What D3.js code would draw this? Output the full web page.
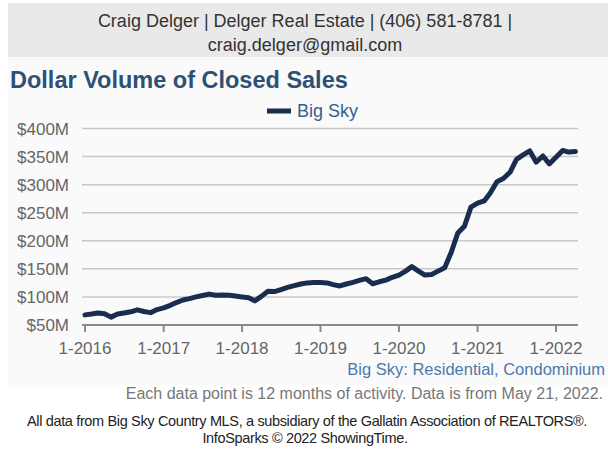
<!DOCTYPE html>
<html>
<head>
<meta charset="utf-8">
<script src="https://cdn.jsdelivr.net/npm/d3@7"></script>
<style>
  body { margin: 0; background: #fff; }
  svg { display: block; font-family: "Liberation Sans", Arial, sans-serif; }
</style>
</head>
<body>
<div id="chart"></div>
<script>
// monthly rolling 12-month dollar volume, $M
const vol2016 = [68, 69.5, 71.5, 70, 64, 69.5, 71.5, 73.5, 77, 74, 72, 77.5];
const vol2017 = [80.5, 85, 90, 94.5, 97, 100, 102.5, 105, 103, 103.5, 103, 101.5];
const vol2018 = [100, 98.5, 93, 101, 110, 109.5, 113, 117, 120, 123, 125, 125.5];
const vol2019 = [125.5, 125, 122, 119.5, 123, 126, 129.5, 132.5, 123.5, 127, 130, 135];
const vol2020 = [139, 146, 154, 146, 139, 140, 146, 152, 180, 214, 226, 260];
const vol2021 = [267, 271, 285, 305, 311, 322, 345, 353, 360, 340, 351, 337];
const vol2022 = [349, 361, 358, 359];

const years = [2016, 2017, 2018, 2019, 2020, 2021, 2022];
const xTickLabels = ["1-2016", "1-2017", "1-2018", "1-2019", "1-2020", "1-2021", "1-2022"];
const yTicks = [50, 100, 150, 200, 250, 300, 350, 400];
const seriesName = "Big Sky";

const yearly = [vol2016, vol2017, vol2018, vol2019, vol2020, vol2021, vol2022];
let data = [];
yearly.forEach((arr, i) => {
  arr.forEach((v, m) => data.push({ date: new Date(years[i], m, 1), value: v }));
});

const W = 608, H = 449;
const svg = d3.select("#chart").append("svg").attr("width", W).attr("height", H);

// header box
svg.append("rect").attr("x", 8).attr("y", 3).attr("width", 600).attr("height", 54).attr("fill", "#e9e9e9");
svg.append("text").attr("x", 305).attr("y", 27).attr("text-anchor", "middle")
  .attr("font-size", 18).attr("fill", "#333")
  .text("Craig Delger | Delger Real Estate | (406) 581-8781 |");
svg.append("text").attr("x", 305).attr("y", 51).attr("text-anchor", "middle")
  .attr("font-size", 18).attr("fill", "#333")
  .text("craig.delger@gmail.com");

// chart panel
svg.append("rect").attr("x", 8).attr("y", 57).attr("width", 600).attr("height", 328).attr("fill", "#fafafa");

svg.append("text").attr("x", 10).attr("y", 88)
  .attr("font-size", 23.5).attr("font-weight", "bold").attr("fill", "#2d5077")
  .text("Dollar Volume of Closed Sales");

const left = 82, right = 578;
const x = d3.scaleTime()
  .domain([new Date(2016, 0, 1), new Date(2022, 0, 1)])
  .range([85, 556]);
const y = d3.scaleLinear().domain([50, 400]).range([325, 128.5]);

// gridlines
svg.append("g").selectAll("line").data(yTicks.slice(1)).enter().append("line")
  .attr("x1", left).attr("x2", right)
  .attr("y1", d => y(d)).attr("y2", d => y(d))
  .attr("stroke", "#c8c8c8").attr("stroke-width", 1.5);

// y labels
svg.append("g").selectAll("text").data(yTicks).enter().append("text")
  .attr("x", 69).attr("y", d => y(d) + 6)
  .attr("text-anchor", "end").attr("font-size", 17).attr("fill", "#666")
  .text(d => "$" + d + "M");

// x axis
svg.append("line").attr("x1", left).attr("x2", right).attr("y1", y(50)).attr("y2", y(50))
  .attr("stroke", "#8a8a8a").attr("stroke-width", 2);
const xg = svg.append("g").selectAll("g").data(years).enter().append("g")
  .attr("transform", d => "translate(" + x(new Date(d, 0, 1)) + ",0)");
xg.append("line").attr("y1", y(50)).attr("y2", y(50) + 7).attr("stroke", "#8a8a8a").attr("stroke-width", 2);
xg.append("text").attr("y", 354).attr("text-anchor", "middle")
  .attr("font-size", 17).attr("fill", "#666")
  .text((d, i) => xTickLabels[i]);

// line
const line = d3.line().x(d => x(d.date)).y(d => y(d.value));
svg.append("path").datum(data).attr("d", line)
  .attr("fill", "none").attr("stroke", "#1b2d4f").attr("stroke-width", 5)
  .attr("stroke-linejoin", "round").attr("stroke-linecap", "round");

// legend
svg.append("line").attr("x1", 267).attr("x2", 291).attr("y1", 111).attr("y2", 111)
  .attr("stroke", "#1b2d4f").attr("stroke-width", 5);
svg.append("text").attr("x", 297).attr("y", 117)
  .attr("font-size", 18).attr("fill", "#35618f").text(seriesName);

// footers
svg.append("text").attr("x", 605).attr("y", 375).attr("text-anchor", "end")
  .attr("font-size", 16.5).attr("fill", "#4a79ad")
  .text("Big Sky: Residential, Condominium");
svg.append("text").attr("x", 603).attr("y", 399).attr("text-anchor", "end")
  .attr("font-size", 16).attr("fill", "#777")
  .text("Each data point is 12 months of activity. Data is from May 21, 2022.");
svg.append("text").attr("x", 307).attr("y", 426).attr("text-anchor", "middle")
  .attr("font-size", 14.5).attr("fill", "#222").attr("letter-spacing", -0.35)
  .text("All data from Big Sky Country MLS, a subsidiary of the Gallatin Association of REALTORS®.");
svg.append("text").attr("x", 305).attr("y", 443).attr("text-anchor", "middle")
  .attr("font-size", 14.5).attr("fill", "#222").attr("letter-spacing", -0.35)
  .text("InfoSparks © 2022 ShowingTime.");
</script>
</body>
</html>
